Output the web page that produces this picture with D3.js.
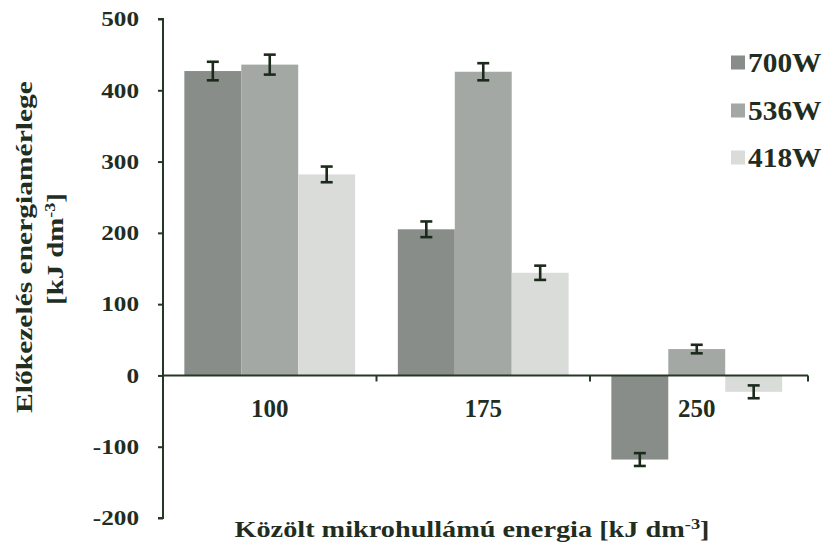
<!DOCTYPE html>
<html><head><meta charset="utf-8">
<script src="https://cdn.jsdelivr.net/npm/d3@7"></script>
<style>
body{margin:0;background:#fff;}
text{font-family:"Liberation Serif",serif;font-weight:bold;fill:#1f2e1f;}
</style></head>
<body><svg id="chart" width="827" height="558"></svg>
<script>
const categories = ["100","175","250"];
const seriesNames = ["700W","536W","418W"];
const values700 = [427, 205, -118];
const values536 = [436, 426, 37];
const values418 = [282, 144, -23];
const err700 = [13, 11, 9];
const err536 = [14, 12, 6];
const err418 = [11, 10, 9];
const yTicks = [-200,-100,0,100,200,300,400,500];
const colors = ["#898d89","#a4a8a4","#dadcda"];

const series = [values700, values536, values418];
const errs = [err700, err536, err418];

const svg = d3.select("#chart");
const mLeft = 163, mRight = 803.5, mTop = 19, mBottom = 518;
const FONT = "Liberation Serif";

const y = d3.scaleLinear().domain([-200,500]).range([mBottom, mTop]);
const x0 = d3.scaleBand().domain(categories).range([mLeft, mRight]).paddingInner(0.2).paddingOuter(0.1);
const x1 = d3.scaleBand().domain(seriesNames).range([0, x0.bandwidth()]);

// bars
categories.forEach((c, ci) => {
  seriesNames.forEach((s, si) => {
    const v = series[si][ci];
    svg.append("rect")
      .attr("x", x0(c) + x1(s))
      .attr("width", x1.bandwidth())
      .attr("y", Math.min(y(v), y(0)))
      .attr("height", Math.abs(y(v) - y(0)))
      .attr("fill", colors[si]);
  });
});

// error bars
categories.forEach((c, ci) => {
  seriesNames.forEach((s, si) => {
    const v = series[si][ci], e = errs[si][ci];
    const cx = x0(c) + x1(s) + x1.bandwidth()/2;
    const g = svg.append("g").attr("stroke", "#1c2a1c").attr("stroke-width", 2.6);
    g.append("line").attr("x1", cx).attr("x2", cx).attr("y1", y(v+e)).attr("y2", y(v-e));
    g.append("line").attr("x1", cx-6).attr("x2", cx+6).attr("y1", y(v+e)).attr("y2", y(v+e));
    g.append("line").attr("x1", cx-6).attr("x2", cx+6).attr("y1", y(v-e)).attr("y2", y(v-e));
  });
});

// y axis
const yAxis = svg.append("g").attr("transform", `translate(${mLeft},0)`)
  .call(d3.axisLeft(y).tickValues(yTicks).tickSize(5).tickFormat(""));
yAxis.selectAll("path,line").attr("stroke", "#243824").attr("stroke-width", 2);
yAxis.select(".domain").attr("d", `M-5,${mBottom}H0V${mTop}H-5`);

function txt(sel){ return sel.style("font-family", FONT).style("font-weight", "bold").style("fill", "#1f2e1f"); }

yTicks.forEach(t => {
  txt(svg.append("text"))
    .attr("transform", `translate(139,${y(t)}) scale(1.2,1)`)
    .attr("text-anchor", "end").attr("dy", "0.35em")
    .style("font-size", "21px")
    .text(t);
});

// x axis
const xg = svg.append("g");
xg.append("line").attr("x1", mLeft).attr("x2", 808).attr("y1", y(0)).attr("y2", y(0))
  .attr("stroke", "#243824").attr("stroke-width", 2);
const bounds = [x0("100") + x0.bandwidth() + x0.step()*0.1, x0("175") + x0.bandwidth() + x0.step()*0.1, 808];
bounds.forEach(b => {
  xg.append("line").attr("x1", b).attr("x2", b).attr("y1", y(0)).attr("y2", y(0)+6)
    .attr("stroke", "#243824").attr("stroke-width", 2);
});
categories.forEach(c => {
  txt(svg.append("text"))
    .attr("x", x0(c) + x0.bandwidth()/2).attr("y", 417)
    .attr("text-anchor", "middle")
    .style("font-size", "25px")
    .text(c);
});

// x title
const xt = txt(svg.append("text"))
  .attr("transform", "translate(472,537) scale(1.23,1)")
  .attr("text-anchor", "middle").style("font-size", "23px");
xt.append("tspan").text("Közölt mikrohullámú energia [kJ dm");
xt.append("tspan").attr("dy", -8).style("font-size", "15px").text("-3");
xt.append("tspan").attr("dy", 8).text("]");

// y title
txt(svg.append("text"))
  .attr("transform", "translate(32,247) rotate(-90) scale(1.23,1)")
  .attr("text-anchor", "middle").style("font-size", "24px")
  .text("Előkezelés energiamérlege");
const yt2 = txt(svg.append("text"))
  .attr("transform", "translate(63,249) rotate(-90) scale(1.2,1)")
  .attr("text-anchor", "middle").style("font-size", "24px");
yt2.append("tspan").text("[kJ dm");
yt2.append("tspan").attr("dy", -8).style("font-size", "15px").text("-3");
yt2.append("tspan").attr("dy", 8).text("]");

// legend
const legY = [62.5, 110.5, 157.5];
seriesNames.forEach((s, i) => {
  svg.append("rect").attr("x", 731).attr("y", legY[i]-7).attr("width", 14).attr("height", 14).attr("fill", colors[i]);
  txt(svg.append("text")).attr("transform", `translate(748,${legY[i]}) scale(1.05,1)`)
    .attr("dy", "0.35em").style("font-size", "28px").text(s);
});
</script></body></html>
